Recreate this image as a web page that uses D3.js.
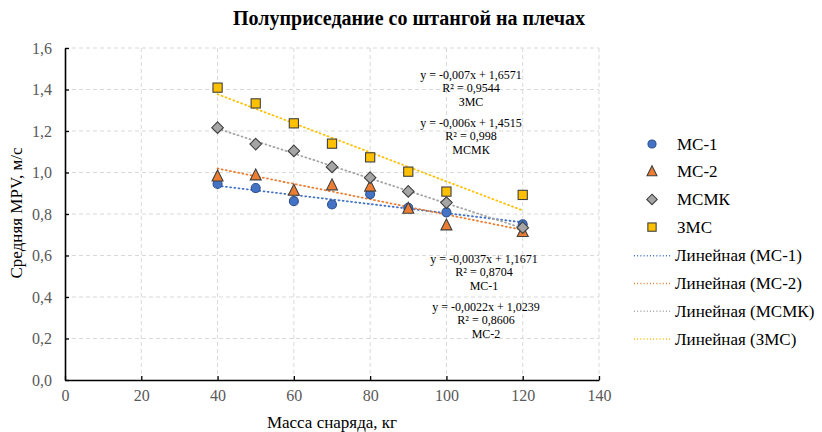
<!DOCTYPE html>
<html><head><meta charset="utf-8">
<script src="https://cdn.jsdelivr.net/npm/d3@7"></script>
<style>
body{margin:0;background:#fff;}
</style></head>
<body><svg id="chart" width="822" height="432" font-family="Liberation Serif, Times New Roman, serif"></svg>
<script>
// Mass of the barbell, kg
const masses = [40, 50, 60, 70, 80, 90, 100, 120];
// Mean propulsive velocity, m/s, per qualification group
const mc1  = [0.945, 0.925, 0.862, 0.846, 0.896, 0.830, 0.808, 0.750];
const mc2  = [0.981, 0.986, 0.912, 0.938, 0.932, 0.825, 0.745, 0.713];
const mcmk = [1.216, 1.137, 1.104, 1.027, 0.975, 0.909, 0.855, 0.734];
const zmc  = [1.409, 1.333, 1.237, 1.139, 1.073, 1.004, 0.908, 0.892];

const seriesNames = ["МС-1", "МС-2", "МСМК", "ЗМС"];
// Linear trend coefficients per series
const trendSlopes     = [-0.0022, -0.0037, -0.006, -0.007];
const trendIntercepts = [1.0239, 1.1671, 1.4515, 1.6571];
// Trend equation labels as printed on the chart
const eqLabels = [
  ["y = -0,0037x + 1,1671", "R² = 0,8704", "МС-1"],
  ["y = -0,0022x + 1,0239", "R² = 0,8606", "МС-2"],
  ["y = -0,006x + 1,4515", "R² = 0,998", "МСМК"],
  ["y = -0,007x + 1,6571", "R² = 0,9544", "ЗМС"]
];
const xTicks = [0, 20, 40, 60, 80, 100, 120, 140];
const yTicks = [0, 0.2, 0.4, 0.6, 0.8, 1.0, 1.2, 1.4, 1.6];

const colors = ["#4472C4", "#ED7D31", "#A5A5A5", "#FFC000"];
const strokes = ["#2F528F", "#404040", "#404040", "#404040"];
const values = [mc1, mc2, mcmk, zmc];
const FONT = "Liberation Serif, Times New Roman, serif";

const svg = d3.select("#chart");
const m = {left: 65, right: 599, top: 48, bottom: 380};
const x = d3.scaleLinear().domain([0, 140]).range([m.left, m.right]);
const y = d3.scaleLinear().domain([0, 1.6]).range([m.bottom, m.top]);
const fmt = d => d3.format(".1f")(d).replace(".", ",");

// Grid
const grid = svg.append("g").attr("stroke", "#D9D9D9").attr("stroke-dasharray", "4,3").attr("stroke-width", 1);
yTicks.filter(t => t > 0).forEach(t => {
  grid.append("line").attr("x1", m.left).attr("x2", m.right).attr("y1", y(t)).attr("y2", y(t));
});
xTicks.filter(t => t > 0).forEach(t => {
  grid.append("line").attr("x1", x(t)).attr("x2", x(t)).attr("y1", m.top).attr("y2", m.bottom);
});

// Axes
const xAxis = svg.append("g").attr("transform", `translate(0,${m.bottom})`)
  .call(d3.axisBottom(x).tickValues(xTicks).tickSizeInner(-4).tickSizeOuter(0).tickPadding(10).tickFormat(d => d));
const yAxis = svg.append("g").attr("transform", `translate(${m.left},0)`)
  .call(d3.axisLeft(y).tickValues(yTicks).tickSizeInner(-4).tickSizeOuter(0).tickPadding(13).tickFormat(fmt));
[xAxis, yAxis].forEach(a => {
  a.attr("font-family", FONT).attr("font-size", 16);
  a.select(".domain").attr("stroke", "#000").attr("stroke-width", 1.6);
  a.selectAll(".tick line").attr("stroke", "#000").attr("stroke-width", 1.3);
  a.selectAll(".tick text").attr("fill", "#595959");
});

// Trend lines
values.forEach((vals, i) => {
  const x0 = d3.min(masses), x1 = d3.max(masses);
  svg.append("line")
    .attr("x1", x(x0)).attr("y1", y(trendSlopes[i] * x0 + trendIntercepts[i]))
    .attr("x2", x(x1)).attr("y2", y(trendSlopes[i] * x1 + trendIntercepts[i]))
    .attr("stroke", colors[i]).attr("stroke-width", 1.8).attr("stroke-dasharray", "1,3.2")
    .attr("stroke-linecap", "round");
});

// Markers
function marker(g, i, cx, cy, s) {
  const k = s || 1;
  let el;
  if (i === 0) el = g.append("circle").attr("cx", cx).attr("cy", cy).attr("r", 4.5 * k);
  else if (i === 1) el = g.append("path").attr("d", `M${cx},${cy - 6.5 * k}L${cx + 5.5 * k},${cy + 4.5 * k}L${cx - 5.5 * k},${cy + 4.5 * k}Z`);
  else if (i === 2) el = g.append("path").attr("d", `M${cx},${cy - 5.8 * k}L${cx + 5.8 * k},${cy}L${cx},${cy + 5.8 * k}L${cx - 5.8 * k},${cy}Z`);
  else el = g.append("rect").attr("x", cx - 4.6 * k).attr("y", cy - 4.6 * k).attr("width", 9.2 * k).attr("height", 9.2 * k);
  el.attr("fill", colors[i]).attr("stroke", strokes[i]).attr("stroke-width", 1.1);
}
const pts = svg.append("g");
values.forEach((vals, i) => {
  vals.forEach((v, j) => marker(pts, i, x(masses[j]), y(v)));
});

// Trend equation annotations
const eqPos = [[484, 263], [486, 311], [471, 127], [471, 79]];
eqLabels.forEach((lines, i) => {
  const t = svg.append("text").attr("text-anchor", "middle").attr("font-family", FONT)
    .attr("font-size", 12).attr("fill", "#000");
  lines.forEach((s, k) => {
    t.append("tspan").attr("x", eqPos[i][0]).attr("y", eqPos[i][1] + k * 13.3).text(s);
  });
});

// Title and axis titles
svg.append("text").attr("x", 409).attr("y", 25).attr("text-anchor", "middle").attr("font-family", FONT)
  .attr("font-size", 20).attr("font-weight", "bold").text("Полуприседание со штангой на плечах");
svg.append("text").attr("x", 332).attr("y", 428).attr("text-anchor", "middle").attr("font-family", FONT)
  .attr("font-size", 17).attr("fill", "#000").text("Масса снаряда, кг");
svg.append("text").attr("transform", "translate(22,213) rotate(-90)").attr("text-anchor", "middle")
  .attr("font-family", FONT).attr("font-size", 17).attr("fill", "#000").text("Средняя MPV, м/с");

// Legend
const leg = svg.append("g").attr("font-family", FONT).attr("font-size", 17);
const rowY = [144, 171.7, 199.4, 227.1, 255.8, 283.5, 311.2, 339];
seriesNames.forEach((n, i) => {
  marker(leg, i, 652, rowY[i], 0.9);
  leg.append("text").attr("x", 677).attr("y", rowY[i] + 5.5).text(n);
});
seriesNames.forEach((n, i) => {
  const yy = rowY[i + 4];
  leg.append("line").attr("x1", 634).attr("x2", 671).attr("y1", yy).attr("y2", yy)
    .attr("stroke", colors[i]).attr("stroke-width", 1.5).attr("stroke-dasharray", "1,2.2");
  leg.append("text").attr("x", 675).attr("y", yy + 5.5).text(`Линейная (${n})`);
});
</script></body></html>
